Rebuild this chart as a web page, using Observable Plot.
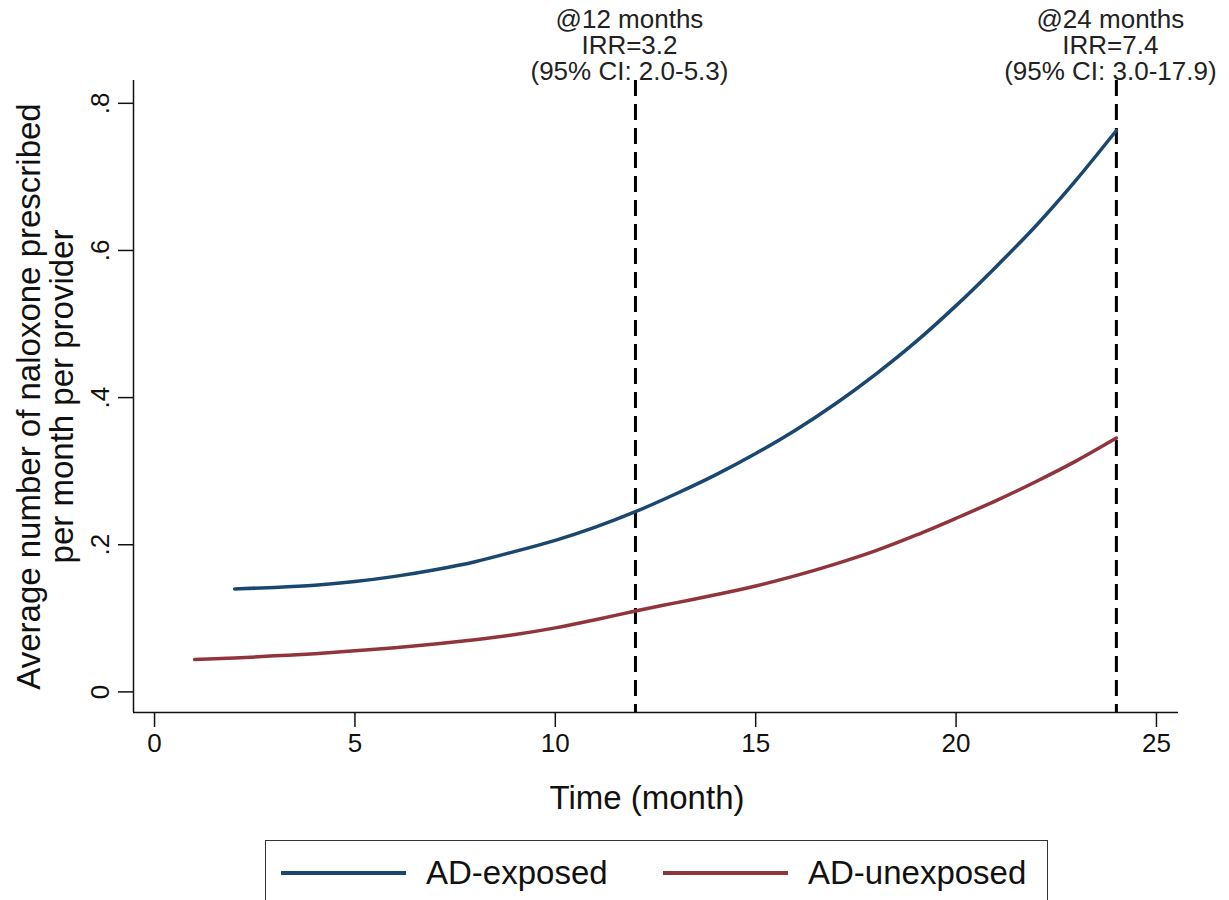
<!DOCTYPE html>
<html>
<head>
<meta charset="utf-8">
<script src="https://cdn.jsdelivr.net/npm/d3@7"></script>
<script src="https://cdn.jsdelivr.net/npm/@observablehq/plot@0.6"></script>
<style>
  html, body { margin: 0; padding: 0; background: #fff; }
  body { position: relative; width: 1229px; height: 900px; overflow: hidden; font-family: "Liberation Sans", Arial, sans-serif; }
  #chart { position: absolute; left: 0; top: 0; }
  #legend { position: absolute; left: 265px; top: 840px; width: 783px; height: 80px; box-sizing: border-box;
            border: 1.5px solid #333; background: #fff; display: flex; align-items: flex-start; padding-left: 15px; }
  .item { display: flex; align-items: center; width: 382px; height: 64px; }
  .swatch { width: 125px; height: 4px; margin-right: 20px; }
  .label { font-size: 33px; color: #111; }
</style>
</head>
<body>
<div id="chart"></div>
<div id="legend"></div>
<script>
// ---- data ----
const seriesNames = ["AD-exposed", "AD-unexposed"];
const seriesColors = ["#1a476f", "#90353b"];

const exposedMonths = [2, 3, 4, 5, 6, 7, 8, 9, 10, 11, 12, 13, 14, 15, 16, 17, 18, 19, 20, 21, 22, 23, 24];
const exposedValues = [0.140, 0.142, 0.145, 0.150, 0.157, 0.166, 0.177, 0.191, 0.206, 0.224, 0.245, 0.269, 0.295, 0.324, 0.356, 0.392, 0.432, 0.476, 0.525, 0.578, 0.634, 0.696, 0.763];

const unexposedMonths = [1, 2, 3, 4, 5, 6, 7, 8, 9, 10, 11, 12, 13, 14, 15, 16, 17, 18, 19, 20, 21, 22, 23, 24];
const unexposedValues = [0.044, 0.046, 0.049, 0.052, 0.056, 0.060, 0.065, 0.071, 0.078, 0.087, 0.098, 0.110, 0.121, 0.132, 0.144, 0.158, 0.174, 0.192, 0.213, 0.236, 0.260, 0.286, 0.314, 0.345];

const annotationMonths = [12, 24];
const annotationLabels = [
  "@12 months\nIRR=3.2\n(95% CI: 2.0-5.3)",
  "@24 months\nIRR=7.4\n(95% CI: 3.0-17.9)"
];

const xTicks = [0, 5, 10, 15, 20, 25];
const yTicks = [0, 0.2, 0.4, 0.6, 0.8];
const xTitle = "Time (month)";
const yTitle = "Average number of naloxone prescribed\nper month per provider";

// ---- build tidy table ----
const rows = [
  ...exposedMonths.map((m, i) => ({month: m, value: exposedValues[i], series: seriesNames[0]})),
  ...unexposedMonths.map((m, i) => ({month: m, value: unexposedValues[i], series: seriesNames[1]}))
];
const annotations = annotationMonths.map((m, i) => ({month: m, label: annotationLabels[i]}));

const xDomain = [-0.525, 25.55];
const yDomain = [-0.028, 0.831];

const fmtY = d => d === 0 ? "0" : String(d).replace(/^0\./, ".");

const chart = Plot.plot({
  width: 1229,
  height: 830,
  marginLeft: 133,
  marginRight: 51,
  marginTop: 80,
  marginBottom: 118,
  style: {fontFamily: "'Liberation Sans', Arial, sans-serif", color: "#111", background: "#fff"},
  x: {domain: xDomain},
  y: {domain: yDomain},
  color: {domain: seriesNames, range: seriesColors},
  marks: [
    Plot.ruleX([xDomain[0]], {stroke: "#111", strokeWidth: 1.5}),
    Plot.ruleY([yDomain[0]], {stroke: "#111", strokeWidth: 1.5}),
    Plot.axisX({ticks: xTicks, tickSize: 15, tickPadding: 6, fontSize: 26, label: null, stroke: "#111", strokeWidth: 1.5}),
    Plot.axisY({ticks: yTicks, tickSize: 15, tickPadding: 10, tickRotate: -90, tickFormat: fmtY, fontSize: 26, label: null, stroke: "#111", strokeWidth: 1.5}),
    Plot.text([yTitle], {frameAnchor: "left", dx: -88, rotate: -90, lineAnchor: "middle", textAnchor: "middle", lineHeight: 1.0, fontSize: 33, fill: "#111"}),
    Plot.text([xTitle], {frameAnchor: "bottom", dy: 86, dx: -9, lineAnchor: "middle", textAnchor: "middle", fontSize: 33, fill: "#111"}),
    Plot.ruleX(annotationMonths, {stroke: "#000", strokeWidth: 3, strokeDasharray: "16,8"}),
    Plot.line(rows, {x: "month", y: "value", stroke: "series", z: "series", strokeWidth: 3.5, curve: "monotone-x"}),
    Plot.text(annotations, {x: "month", text: "label", frameAnchor: "top", dx: -6, dy: -71, lineAnchor: "top", textAnchor: "middle", lineHeight: 1.0, fontSize: 26, fill: "#222"})
  ]
});
document.getElementById("chart").appendChild(chart);

// ---- legend ----
const legend = document.getElementById("legend");
seriesNames.forEach((name, i) => {
  const item = document.createElement("div");
  item.className = "item";
  const sw = document.createElement("div");
  sw.className = "swatch";
  sw.style.background = seriesColors[i];
  const lab = document.createElement("span");
  lab.className = "label";
  lab.textContent = name;
  item.appendChild(sw);
  item.appendChild(lab);
  legend.appendChild(item);
});
</script>
</body>
</html>
